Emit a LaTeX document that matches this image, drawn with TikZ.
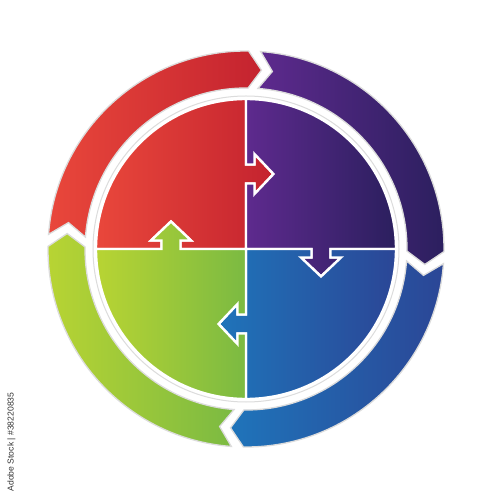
\documentclass[tikz,border=0pt]{standalone}
\usepackage{fontspec}
\setmainfont{Liberation Sans}
\definecolor{redL}{HTML}{E9473B}
\definecolor{redR}{HTML}{C4232F}
\definecolor{purL}{HTML}{5E2A8E}
\definecolor{purR}{HTML}{2B1F5E}
\definecolor{bluL}{HTML}{1F74BA}
\definecolor{bluR}{HTML}{2B4696}
\definecolor{grnL}{HTML}{B8D433}
\definecolor{grnR}{HTML}{7BBA42}
\definecolor{ringgray}{HTML}{DCDCDC}
\newcommand\ringarrow[4]{%
  \shadedraw[left color=#3,right color=#4,ringline]
    (#1:198pt) arc[start angle=#1,end angle=#2,radius=198pt]
    -- ({#2-4.2}:179.5pt)
    -- (#2:161pt) arc[start angle=#2,end angle=#1,radius=161pt]
    -- ({#1-4.2}:179.5pt) -- cycle;}
\begin{document}
\begin{tikzpicture}[x=1pt,y=1pt,
  ringline/.style={draw=ringgray,line width=1.3pt,line join=miter},
  quadline/.style={draw=white,line width=2.4pt,line join=miter},
  stamp/.style={text=black!80,font=\fontsize{8.6}{9}\selectfont,inner sep=0pt,rotate=90}]
\useasboundingbox[fill=white] (-246,-251) rectangle (249,249);
% outer ring arrows (clockwise)
\ringarrow{175.75}{89.25}{redL}{redR}
\ringarrow{85.75}{-0.75}{purL}{purR}
\ringarrow{-4.25}{-90.75}{bluL}{bluR}
\ringarrow{265.75}{179.25}{grnL}{grnR}
% inner disk border
\draw[ringgray,line width=1pt] (0,0) circle[radius=153pt];
% quadrants with tabs: o=75, w=9.5, L=8.5, h=20, L+H=27.5
% red (top-left)
\shadedraw[left color=redL,right color=redR,quadline]
  (0,0) -- (0,65.5) -- (8.5,65.5) -- (8.5,55) -- (27.5,75) -- (8.5,95) -- (8.5,84.5) -- (0,84.5)
  -- (0,150) arc[start angle=90,end angle=180,radius=150pt]
  -- (-84.5,0) -- (-84.5,8.5) -- (-95,8.5) -- (-75,27.5) -- (-55,8.5) -- (-65.5,8.5) -- (-65.5,0) -- cycle;
% purple (top-right)
\shadedraw[left color=purL,right color=purR,quadline]
  (0,0) -- (65.5,0) -- (65.5,-8.5) -- (55,-8.5) -- (75,-27.5) -- (95,-8.5) -- (84.5,-8.5) -- (84.5,0)
  -- (150,0) arc[start angle=0,end angle=90,radius=150pt]
  -- (0,84.5) -- (8.5,84.5) -- (8.5,95) -- (27.5,75) -- (8.5,55) -- (8.5,65.5) -- (0,65.5) -- cycle;
% blue (bottom-right)
\shadedraw[left color=bluL,right color=bluR,quadline]
  (0,0) -- (0,-65.5) -- (-8.5,-65.5) -- (-8.5,-55) -- (-27.5,-75) -- (-8.5,-95) -- (-8.5,-84.5) -- (0,-84.5)
  -- (0,-150) arc[start angle=270,end angle=360,radius=150pt]
  -- (84.5,0) -- (84.5,-8.5) -- (95,-8.5) -- (75,-27.5) -- (55,-8.5) -- (65.5,-8.5) -- (65.5,0) -- cycle;
% green (bottom-left)
\shadedraw[left color=grnL,right color=grnR,quadline]
  (0,0) -- (-65.5,0) -- (-65.5,8.5) -- (-55,8.5) -- (-75,27.5) -- (-95,8.5) -- (-84.5,8.5) -- (-84.5,0)
  -- (-150,0) arc[start angle=180,end angle=270,radius=150pt]
  -- (0,-84.5) -- (-8.5,-84.5) -- (-8.5,-95) -- (-27.5,-75) -- (-8.5,-55) -- (-8.5,-65.5) -- (0,-65.5) -- cycle;
% stock label
\node[stamp] (credit) at (-234.5,-193) {Adobe Stock | \#38220835};
\end{tikzpicture}
\end{document}
